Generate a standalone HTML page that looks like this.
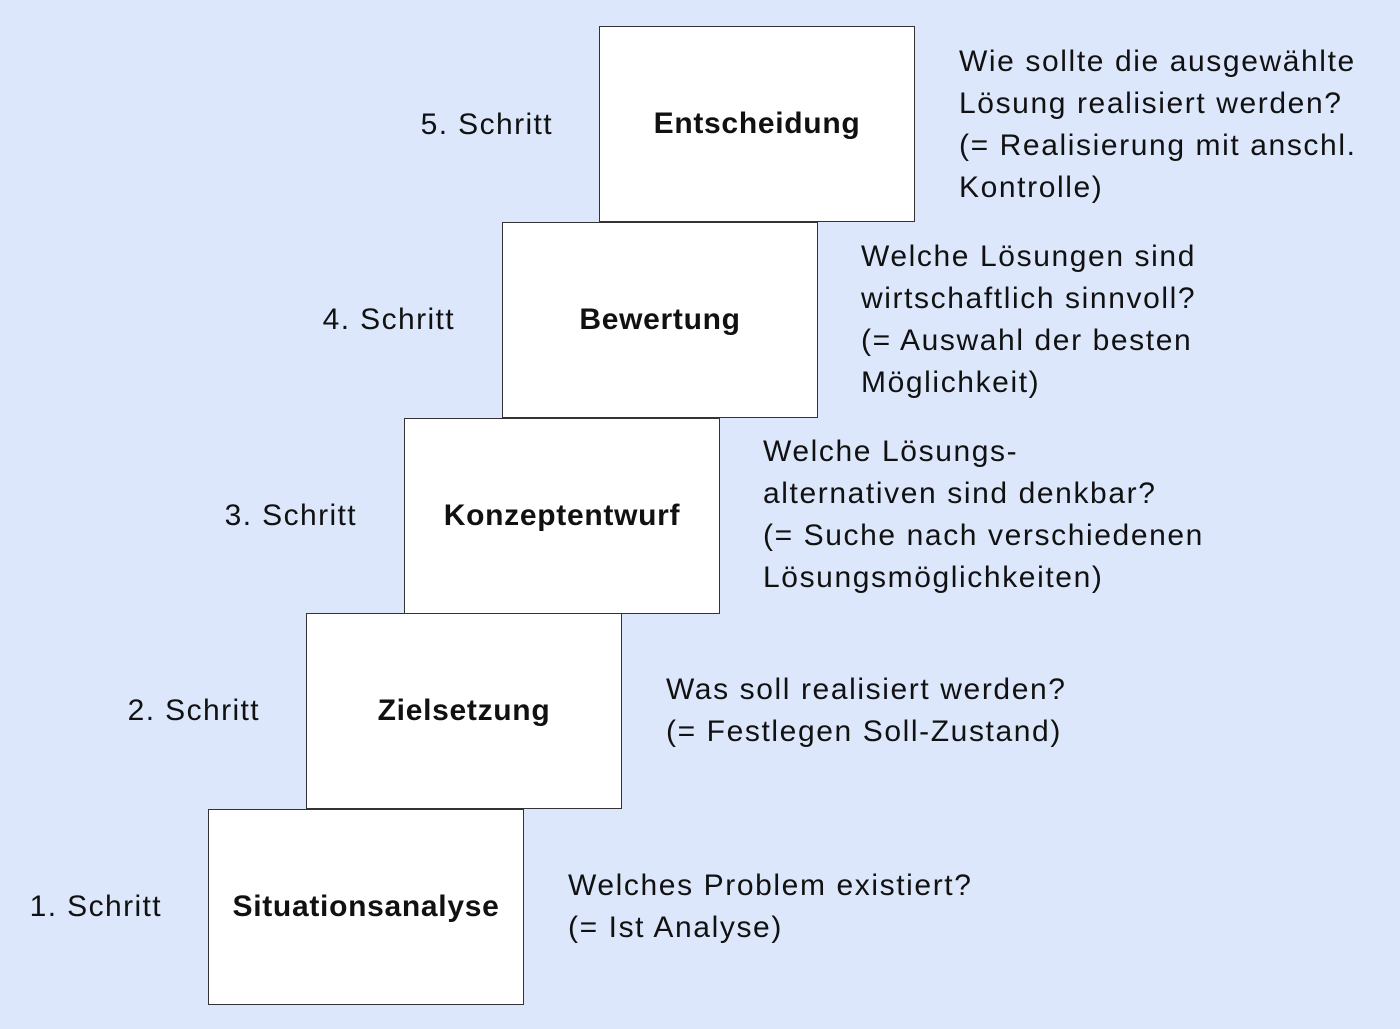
<!DOCTYPE html>
<html><head><meta charset="utf-8"><style>
body{margin:0;width:1400px;height:1029px;background:#dce7fb;position:relative;overflow:hidden;font-family:"Liberation Sans",sans-serif;color:#111}
.b{position:absolute;width:316px;height:196px;background:#fff;border:1.5px solid #333;box-sizing:border-box;display:flex;align-items:center;justify-content:center;font-weight:bold;font-size:30px;letter-spacing:0.7px}
.s{position:absolute;font-size:30px;text-align:right;width:200px;line-height:40px;letter-spacing:1.4px}
.d{position:absolute;font-size:30px;line-height:42px;white-space:nowrap;letter-spacing:1.6px}
</style></head><body>
<div class="b" style="left:208px;top:809px">Situationsanalyse</div>
<div class="b" style="left:306px;top:613px">Zielsetzung</div>
<div class="b" style="left:404px;top:418px">Konzeptentwurf</div>
<div class="b" style="left:502px;top:222px">Bewertung</div>
<div class="b" style="left:599px;top:26px">Entscheidung</div>

<div class="s" style="left:-38px;top:887px">1. Schritt</div>
<div class="s" style="left:60px;top:691px">2. Schritt</div>
<div class="s" style="left:157px;top:496px">3. Schritt</div>
<div class="s" style="left:255px;top:300px">4. Schritt</div>
<div class="s" style="left:353px;top:105px">5. Schritt</div>

<div class="d" style="left:568px;top:865px">Welches Problem existiert?<br>(= Ist Analyse)</div>
<div class="d" style="left:666px;top:669px">Was soll realisiert werden?<br>(= Festlegen Soll-Zustand)</div>
<div class="d" style="left:763px;top:431px">Welche Lösungs-<br>alternativen sind denkbar?<br>(= Suche nach verschiedenen<br>Lösungsmöglichkeiten)</div>
<div class="d" style="left:861px;top:236px">Welche Lösungen sind<br>wirtschaftlich sinnvoll?<br>(= Auswahl der besten<br>Möglichkeit)</div>
<div class="d" style="left:959px;top:41px">Wie sollte die ausgewählte<br>Lösung realisiert werden?<br>(= Realisierung mit anschl.<br>Kontrolle)</div>
</body></html>
